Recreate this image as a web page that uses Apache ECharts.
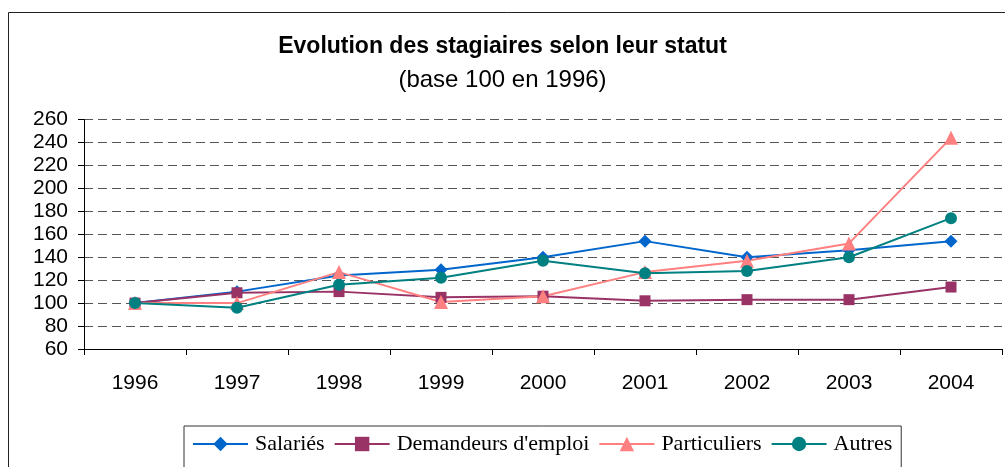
<!DOCTYPE html>
<html>
<head>
<meta charset="utf-8">
<script src="https://cdn.jsdelivr.net/npm/echarts@6/dist/echarts.min.js"></script>
<style>
  html, body { margin: 0; padding: 0; background: #fff; }
  #chart { width: 1005px; height: 467px; }
</style>
</head>
<body>
<div id="chart"></div>
<script>
// donnees
var annees = ['1996', '1997', '1998', '1999', '2000', '2001', '2002', '2003', '2004'];
var salaries = [100, 110, 124, 129, 140, 154, 140, 146, 154];
var demandeurs = [100, 109, 110, 105, 106, 102, 103, 103, 114];
var particuliers = [100, 100, 127, 101, 106, 127, 137, 152, 244];
var autres = [100, 96, 116, 122, 137, 126, 128, 140, 174];

var myChart = echarts.init(document.getElementById('chart'));

function serie(nom, data, couleur, symbole, taille) {
  return {
    name: nom,
    type: 'line',
    data: data,
    symbol: symbole,
    symbolSize: taille,
    lineStyle: { color: couleur, width: 2 },
    itemStyle: { color: couleur },
    animation: false
  };
}

var option = {
  backgroundColor: '#fff',
  textStyle: { fontFamily: 'Liberation Sans, Arial, sans-serif' },
  title: [{
    text: 'Evolution des stagiaires selon leur statut',
    left: 'center',
    top: 35,
    padding: 0,
    textStyle: { fontSize: 23, fontWeight: 'bold', color: '#000' }
  }, {
    text: '(base 100 en 1996)',
    left: 'center',
    top: 68,
    padding: 0,
    textStyle: { fontSize: 24, fontWeight: 'normal', color: '#000' }
  }],
  graphic: [{
    type: 'rect',
    shape: { x: 8.5, y: 12.5, width: 1100, height: 500 },
    style: { fill: 'none', stroke: '#222', lineWidth: 1 },
    silent: true
  }],
  grid: { left: 84, right: 3, top: 119.5, bottom: 118, containLabel: false },
  xAxis: {
    type: 'category',
    data: annees,
    boundaryGap: true,
    axisLine: { lineStyle: { color: '#000', width: 1 } },
    axisTick: { show: true, alignWithLabel: false, length: 6, lineStyle: { color: '#000' } },
    axisLabel: { color: '#000', fontSize: 21, margin: 24 }
  },
  yAxis: {
    type: 'value',
    min: 60,
    max: 260,
    interval: 20,
    axisLine: { show: true, lineStyle: { color: '#000' } },
    axisTick: { show: true, length: 6, lineStyle: { color: '#000' } },
    axisLabel: { color: '#000', fontSize: 21, margin: 16 },
    splitLine: { lineStyle: { color: '#555', type: [9, 5], width: 1 } }
  },
  legend: {
    top: 426,
    left: 184,
    itemWidth: 55,
    itemHeight: 18,
    itemGap: 9,
    padding: [7, 9, 40, 8],
    borderColor: '#333',
    borderWidth: 1,
    textStyle: { fontFamily: 'Liberation Serif, Times New Roman, serif', fontSize: 22, color: '#000', padding: [0, 0, 0, 2] },
    data: ['Salariés', "Demandeurs d'emploi", 'Particuliers', 'Autres']
  },
  series: [
    serie('Salariés', salaries, '#0066CC', 'diamond', 13),
    serie("Demandeurs d'emploi", demandeurs, '#993366', 'rect', 11),
    serie('Particuliers', particuliers, '#FF8080', 'triangle', 14),
    serie('Autres', autres, '#008080', 'circle', 12)
  ]
};

myChart.setOption(option);
</script>
</body>
</html>
